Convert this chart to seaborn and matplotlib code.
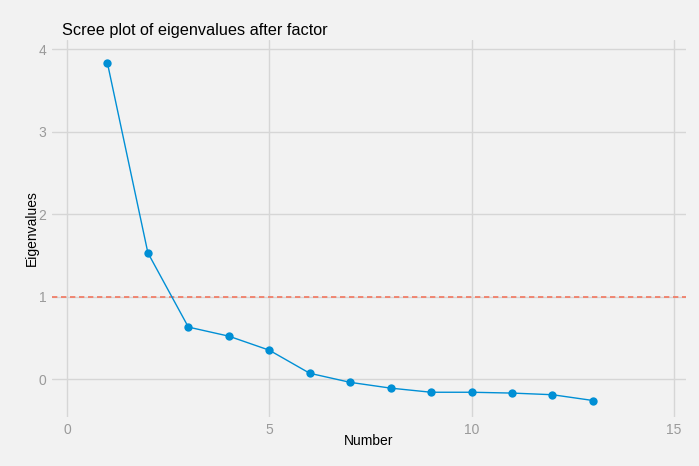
import matplotlib
matplotlib.use("Agg")
import matplotlib.pyplot as plt
import seaborn as sns
import pandas as pd

number = [1, 2, 3, 4, 5, 6, 7, 8, 9, 10, 11, 12, 13]
eigenvalues = [3.83, 1.53, 0.63, 0.52, 0.35, 0.07, -0.04, -0.11, -0.16, -0.16, -0.17, -0.19, -0.26]
x_ticks = [0, 5, 10, 15]
y_ticks = [0, 1, 2, 3, 4]
threshold = 1

sns.set_theme(style="whitegrid")
plt.rcParams['font.family'] = ['Liberation Sans', 'DejaVu Sans']

bg = "#f2f2f2"
fig = plt.figure(figsize=(6.99, 4.66), dpi=100, facecolor=bg)
ax = fig.add_axes([52/699, 1 - 417/466, (686-52)/699, (417-40)/466])
ax.set_facecolor(bg)

df = pd.DataFrame({"Number": number, "Eigenvalues": eigenvalues})
sns.lineplot(data=df, x="Number", y="Eigenvalues", ax=ax, color="#008fd5",
             marker="o", markersize=6, markeredgewidth=0, linewidth=1, zorder=3)
ax.axhline(threshold, color="#f2765e", linestyle=(0, (3.2, 2.2)), linewidth=1.2, zorder=2)

ax.set_xlim(-0.37, 15.3)
ax.set_ylim(-0.46, 4.11)
ax.set_xticks(x_ticks)
ax.set_yticks(y_ticks)
ax.grid(True, color="#d6d6d6", linewidth=1)
ax.set_axisbelow(True)
for s in ax.spines.values():
    s.set_visible(False)
ax.tick_params(axis="both", length=0, labelsize=10, labelcolor="#9a9a9a", pad=4)
ax.set_xlabel("Number", fontsize=10, color="black", labelpad=-2)
ax.set_ylabel("Eigenvalues", fontsize=10, color="black", labelpad=0)
fig.text(62/699, 1 - 30/466, "Scree plot of eigenvalues after factor", fontsize=11.7,
         color="black", va="center", ha="left")

fig.savefig("out.png", dpi=100, facecolor=bg)
